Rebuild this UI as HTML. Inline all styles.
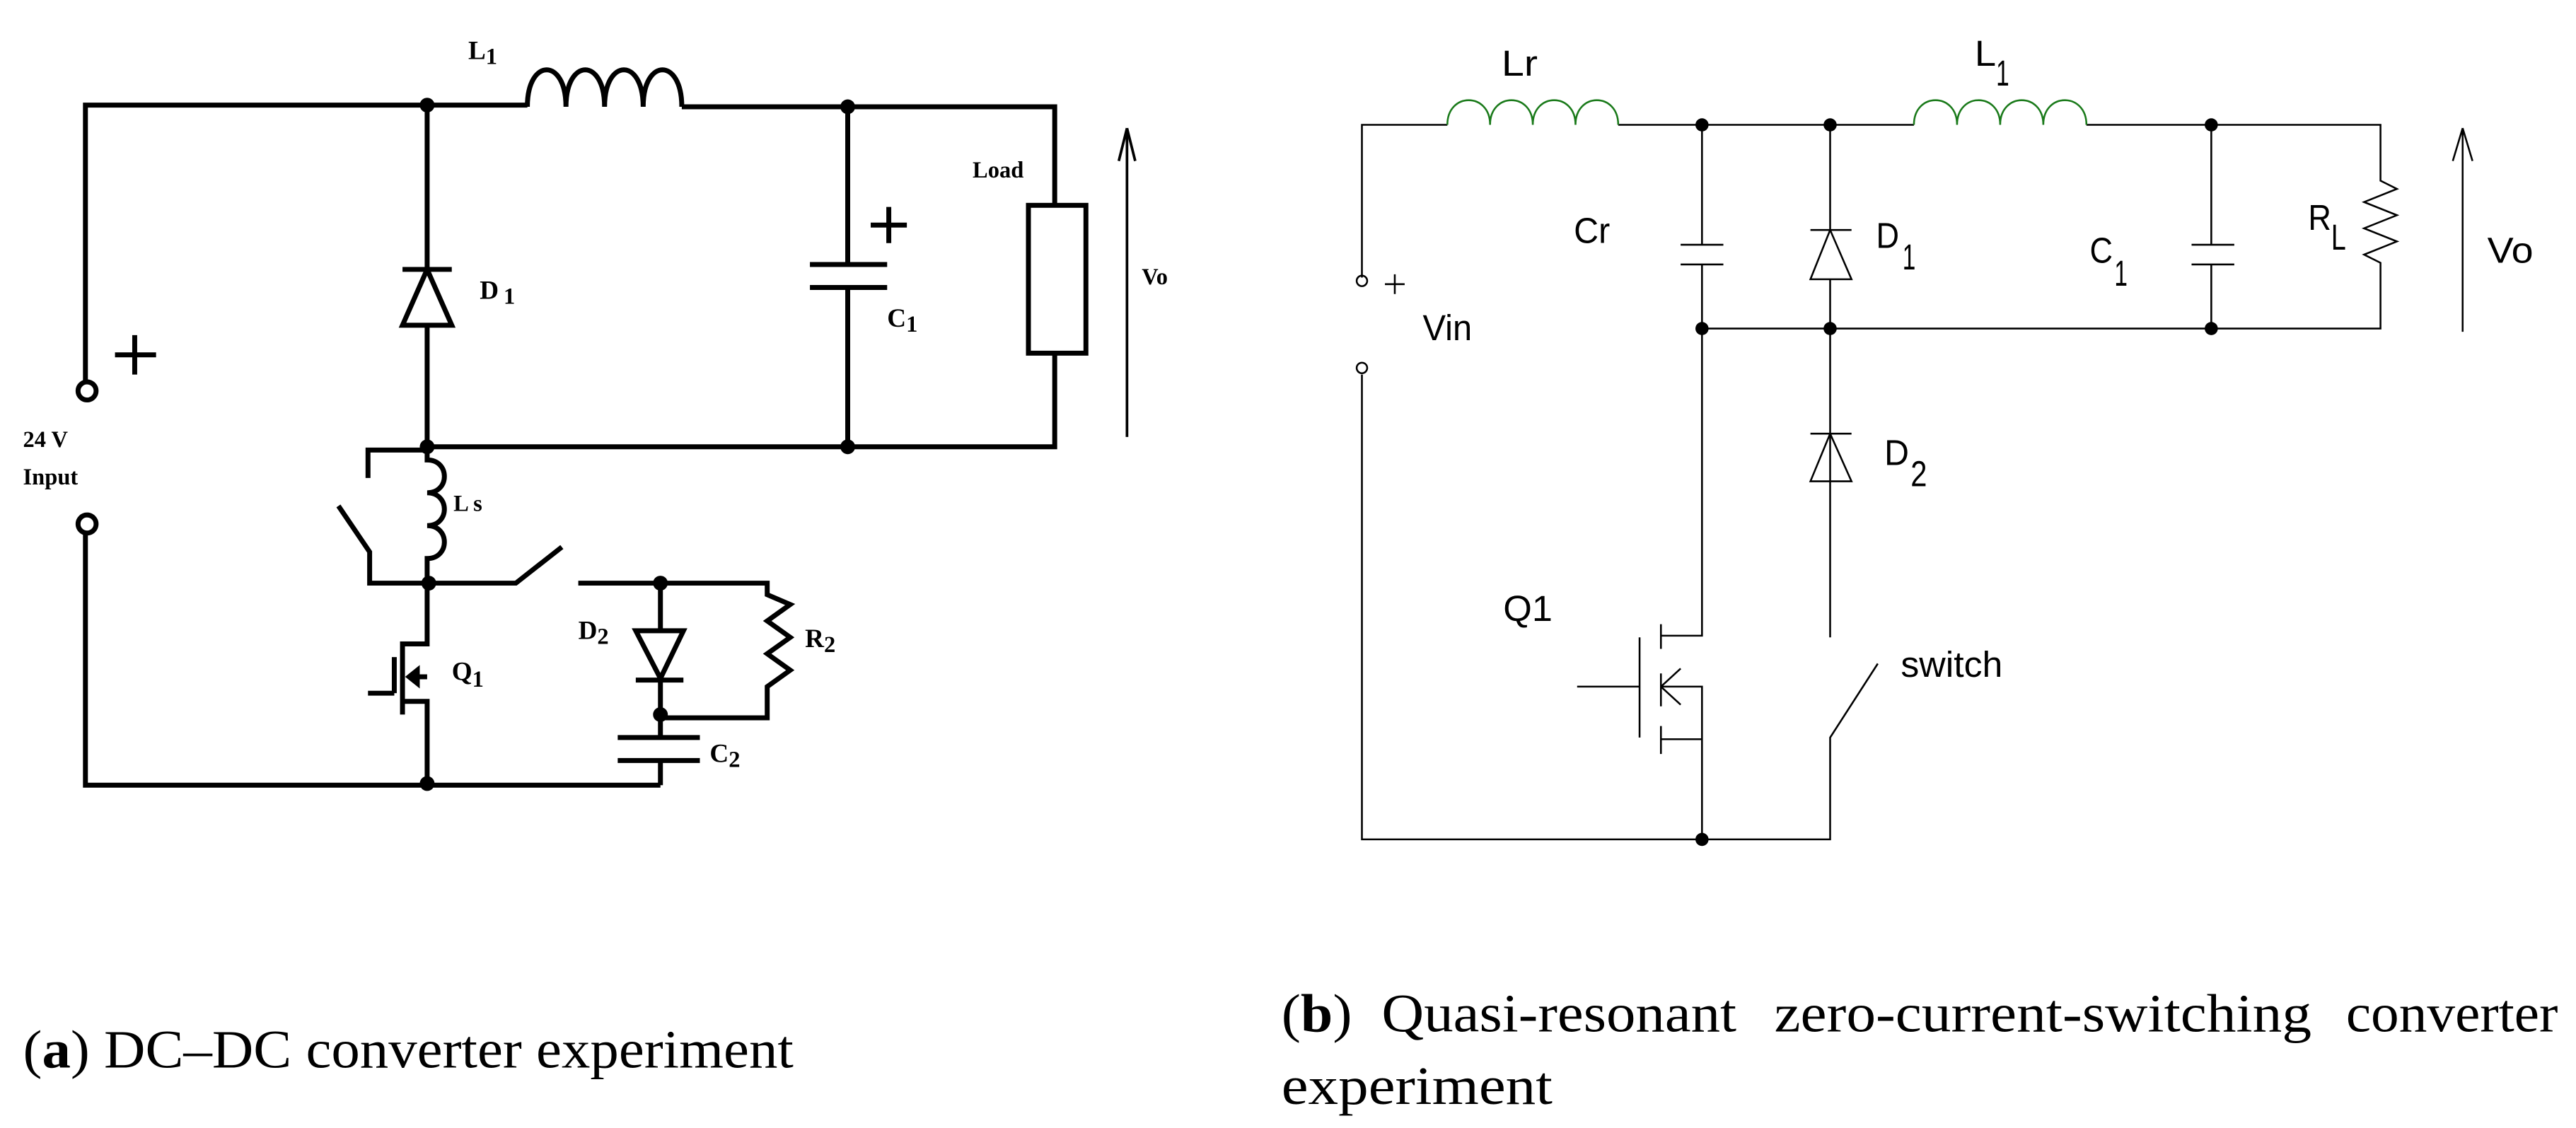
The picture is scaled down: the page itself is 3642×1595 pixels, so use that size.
<!DOCTYPE html>
<html><head><meta charset="utf-8"><style>
html,body{margin:0;padding:0;background:#fff;}
svg{display:block;}
.l{stroke:#000;stroke-width:3;fill:none;}
.r{stroke:#000;stroke-width:1.1;fill:none;}
.g{stroke:#1a7a1a;stroke-width:1.1;fill:none;}
.tb{font-family:"Liberation Serif",serif;font-weight:bold;fill:#000;}
.ts{font-family:"Liberation Sans",sans-serif;fill:#000;}
.cap{font-family:"Liberation Serif",serif;fill:#000;font-size:33px;}
</style></head><body>
<svg width="3642" height="1595" viewBox="0 0 1568 686.7" preserveAspectRatio="none" xmlns="http://www.w3.org/2000/svg">
<!-- LEFT CIRCUIT -->
<g class="l">
<path d="M52 232 V64 H321"/>
<path d="M321 65 c0 -30 23.5 -30 23.5 0 c0 -30 23.5 -30 23.5 0 c0 -30 23.5 -30 23.5 0 c0 -30 23.5 -30 23.5 0"/>
<path d="M415 65 H642 V125"/>
<rect x="626" y="125" width="35" height="90"/>
<path d="M642 215 V272 H260"/>
<path d="M260 64 V164"/>
<path d="M245 164 H275 M245 198 L260 164 L275 198 Z"/>
<path d="M260 198 V272"/>
<path d="M516 65 V161 M493 161 H540 M493 175 H540 M516 175 V272"/>
<path d="M530 137 H552 M541 126 V148"/>
<path d="M70 216 H95 M82 204 V228"/>
<circle cx="53" cy="238" r="5.5"/>
<circle cx="53" cy="319" r="5.5"/>
<path d="M52 325 V478 H402"/>
<path d="M260 272 V280 c14 0 14 20 0 20 c14 0 14 20 0 20 c14 0 14 20 0 20 V355"/>
<path d="M260 274 H224 V291 M206 308 L225 336 V355 H314 L342 333"/>
<path d="M260 355 V392 H245 V435 M245 427 H260 V478 M240 400 V422 M224 422 H240 M260 412 H250"/>
<path d="M249 412 l5 -4 v8 z"/>
<path d="M352 355 H467 V362 l14 6 -14 10 14 10 -14 10 14 10 -14 10 V437 H402"/>
<path d="M402 355 V384 M387 384 H416 L402 413 Z M387 414 H416 M402 414 V448"/>
<path d="M376 449 H426 M376 463 H426 M402 463 V478"/>
</g>
<g stroke="#000" stroke-width="1.6" fill="none">
<path d="M686 266 V80"/>
<path d="M686 78 L681 98 M686 78 L691 98"/>
</g>
<g fill="#000">
<circle cx="260" cy="64" r="4.5"/><circle cx="516" cy="65" r="4.5"/>
<circle cx="260" cy="272" r="4.5"/><circle cx="516" cy="272" r="4.5"/>
<circle cx="261" cy="355" r="4.5"/><circle cx="402" cy="355" r="4.5"/>
<circle cx="402" cy="435" r="4.5"/><circle cx="260" cy="477" r="4.5"/>
</g>
<g class="tb" font-size="16">
<text x="285" y="36">L<tspan font-size="14" dy="3">1</tspan></text>
<text x="292" y="182">D<tspan dx="3" dy="3" font-size="14">1</tspan></text>
<text x="540" y="199">C<tspan dy="3" font-size="14">1</tspan></text>
<text x="592" y="108" font-size="14">Load</text>
<text x="695" y="173" font-size="14">Vo</text>
<text x="14" y="272" font-size="14">24 V</text>
<text x="14" y="295" font-size="14">Input</text>
<text x="276" y="311" font-size="14">L s</text>
<text x="275" y="414">Q<tspan dy="4" font-size="14">1</tspan></text>
<text x="352" y="389">D<tspan dy="3" font-size="14">2</tspan></text>
<text x="490" y="394">R<tspan dy="3" font-size="14">2</tspan></text>
<text x="432" y="464">C<tspan dy="3" font-size="14">2</tspan></text>
</g>
<!-- RIGHT CIRCUIT -->
<g class="r">
<path d="M829 169 V76 H881"/>
<path d="M985 76 H1165"/>
<path d="M1270 76 H1449 V110 l10 5 -20 8 20 8 -20 8 20 8 -20 8 10 5 V200 H1036"/>
<path d="M1036 76 V149 M1023 149 H1049 M1023 161 H1049 M1036 161 V387 H1011"/>
<path d="M1346 76 V149 M1334 149 H1360 M1334 161 H1360 M1346 161 V200"/>
<path d="M1114 76 V140 M1102 140 H1127 M1102 170 L1114 140 L1127 170 Z M1114 170 V388"/>
<path d="M1102 264 H1127 M1102 293 L1114 264 L1127 293 Z"/>
<path d="M1011 380 V395 M1011 410 V430 M1011 442 V459 M998 388 V449 M960 418 H998"/>
<path d="M1011 418 H1036 V511 M1011 450 H1036 M1011 418 L1023 407 M1011 418 L1023 429"/>
<path d="M1143 404 L1114 449 V511 H829 V228"/>
<circle cx="829" cy="171" r="3.2"/><circle cx="829" cy="224" r="3.2"/>
<path d="M843 173 H855 M849 167 V179"/>
<path d="M1499 202 V78 M1499 78 L1493 98 M1499 78 L1505 98"/>
</g>
<g class="g">
<path d="M881 76 c0 -20 26 -20 26 0 c0 -20 26 -20 26 0 c0 -20 26 -20 26 0 c0 -20 26 -20 26 0"/>
<path d="M1165 76 c0 -20 26.25 -20 26.25 0 c0 -20 26.25 -20 26.25 0 c0 -20 26.25 -20 26.25 0 c0 -20 26.25 -20 26.25 0"/>
</g>
<g fill="#000">
<circle cx="1036" cy="76" r="4"/><circle cx="1114" cy="76" r="4"/><circle cx="1346" cy="76" r="4"/>
<circle cx="1036" cy="200" r="4"/><circle cx="1114" cy="200" r="4"/><circle cx="1346" cy="200" r="4"/>
<circle cx="1036" cy="511" r="4"/>
</g>
<g class="ts" font-size="22">
<text x="914" y="46" textLength="22" lengthAdjust="spacingAndGlyphs">Lr</text>
<text x="1202" y="40" textLength="13" lengthAdjust="spacingAndGlyphs">L</text><text x="1215" y="52" textLength="8" lengthAdjust="spacingAndGlyphs">1</text>
<text x="958" y="148" textLength="22" lengthAdjust="spacingAndGlyphs">Cr</text>
<text x="1142" y="151" textLength="14" lengthAdjust="spacingAndGlyphs">D</text><text x="1158" y="164" textLength="8" lengthAdjust="spacingAndGlyphs">1</text>
<text x="1272" y="160" textLength="14" lengthAdjust="spacingAndGlyphs">C</text><text x="1287" y="174" textLength="8" lengthAdjust="spacingAndGlyphs">1</text>
<text x="1405" y="140" textLength="14" lengthAdjust="spacingAndGlyphs">R</text><text x="1419" y="152" textLength="9" lengthAdjust="spacingAndGlyphs">L</text>
<text x="1514" y="160" textLength="28" lengthAdjust="spacingAndGlyphs">Vo</text>
<text x="866" y="207" textLength="30" lengthAdjust="spacingAndGlyphs">Vin</text>
<text x="915" y="378" textLength="30" lengthAdjust="spacingAndGlyphs">Q1</text>
<text x="1147" y="283" textLength="15" lengthAdjust="spacingAndGlyphs">D</text><text x="1163" y="296" textLength="10" lengthAdjust="spacingAndGlyphs">2</text>
<text x="1157" y="412" textLength="62" lengthAdjust="spacingAndGlyphs">switch</text>
</g>
<!-- CAPTIONS -->
<text class="cap" x="14" y="650" textLength="469" lengthAdjust="spacingAndGlyphs">(<tspan font-weight="bold">a</tspan>) DC–DC converter experiment</text>
<text class="cap" x="780" y="628" textLength="43" lengthAdjust="spacingAndGlyphs">(<tspan font-weight="bold">b</tspan>)</text>
<text class="cap" x="841" y="628" textLength="216" lengthAdjust="spacingAndGlyphs">Quasi-resonant</text>
<text class="cap" x="1080" y="628" textLength="327" lengthAdjust="spacingAndGlyphs">zero-current-switching</text>
<text class="cap" x="1428" y="628" textLength="129" lengthAdjust="spacingAndGlyphs">converter</text>
<text class="cap" x="780" y="672" textLength="165" lengthAdjust="spacingAndGlyphs">experiment</text>
</svg>
</body></html>
